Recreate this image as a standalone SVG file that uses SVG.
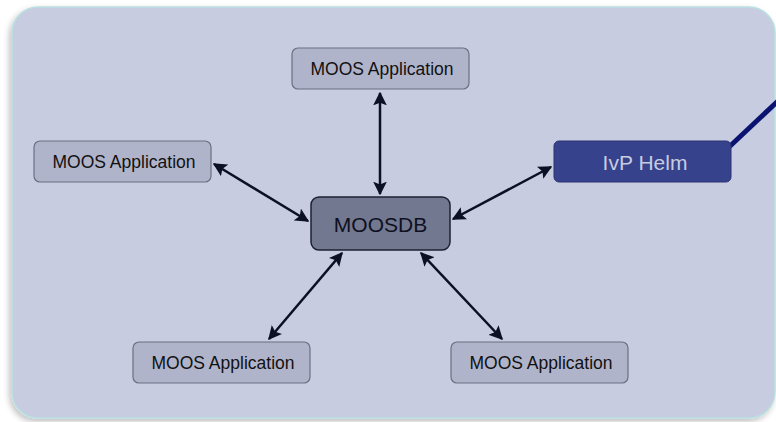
<svg xmlns="http://www.w3.org/2000/svg" width="776" height="422" viewBox="0 0 776 422">
<style>
.app rect{fill:#b0b4cb;stroke:#6b6f82;stroke-width:1.2}
.app text{font-family:"Liberation Sans",Arial,sans-serif;font-size:17.5px;fill:#111;text-anchor:middle;dominant-baseline:central}
.conn line{stroke:#0c1024;stroke-width:2.5;marker-start:url(#ah);marker-end:url(#ah)}
</style>
<defs>
<marker id="ah" viewBox="0 0 10 10" refX="9" refY="5" markerWidth="5.5" markerHeight="5.5" orient="auto-start-reverse" markerUnits="strokeWidth">
<path d="M0,0 L10,5 L0,10 L2,5 Z" fill="#0c1024"/>
</marker>
<filter id="sh" x="-5%" y="-5%" width="110%" height="110%">
<feGaussianBlur in="SourceAlpha" stdDeviation="3"/>
<feOffset dx="-2" dy="3"/>
<feComponentTransfer><feFuncA type="linear" slope="0.25"/></feComponentTransfer>
<feMerge><feMergeNode/><feMergeNode in="SourceGraphic"/></feMerge>
</filter>
</defs>
<rect width="776" height="422" fill="#ffffff"/>
<rect id="panel" x="12" y="7" width="763" height="411" rx="26" fill="#c8cce0" stroke="#b9e0e0" stroke-width="1.5" filter="url(#sh)"/>
<line x1="728" y1="148" x2="778" y2="101" stroke="#0a1470" stroke-width="5"/>
<g class="conn">
<line x1="380" y1="93" x2="380" y2="194"/>
<line x1="214" y1="164" x2="308" y2="221"/>
<line x1="551" y1="167" x2="453" y2="219"/>
<line x1="342" y1="253" x2="269" y2="339"/>
<line x1="421" y1="253" x2="502" y2="339"/>
</g>
<g id="app-top" class="app"><rect x="292" y="48" width="177" height="41" rx="6"/><text x="382" y="69">MOOS Application</text></g>
<g id="app-left" class="app"><rect x="34" y="141" width="177" height="41" rx="6"/><text x="124" y="162">MOOS Application</text></g>
<g id="app-bl" class="app"><rect x="133" y="342" width="177" height="41" rx="6"/><text x="223" y="363">MOOS Application</text></g>
<g id="app-br" class="app"><rect x="451" y="342" width="177" height="41" rx="6"/><text x="541" y="363">MOOS Application</text></g>
<g id="moosdb"><rect x="311" y="197" width="139" height="53" rx="8" fill="#737891" stroke="#1e2030" stroke-width="1.5"/><text x="380.5" y="224" font-family="Liberation Sans,Arial,sans-serif" font-size="21" fill="#0e1020" text-anchor="middle" dominant-baseline="central">MOOSDB</text></g>
<g id="helm"><rect x="554" y="141" width="177" height="41" rx="5" fill="#36428c" stroke="#2a3370" stroke-width="1"/><text x="645" y="162" font-family="Liberation Sans,Arial,sans-serif" font-size="21" fill="#c8cce0" text-anchor="middle" dominant-baseline="central">IvP Helm</text></g>
</svg>
